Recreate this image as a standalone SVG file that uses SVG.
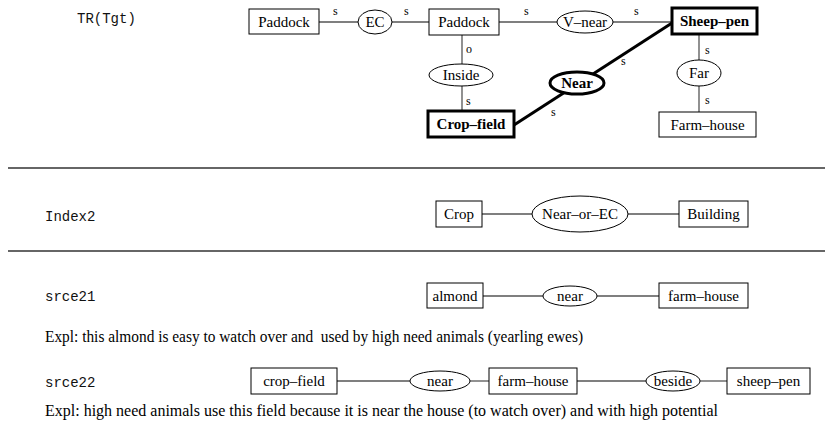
<svg xmlns="http://www.w3.org/2000/svg" width="825" height="426" viewBox="0 0 825 426">
  <style>
    .box { fill: #fff; stroke: #000; stroke-width: 1; }
    .bold-box { fill: #fff; stroke: #000; stroke-width: 3; }
    .rel { fill: #fff; stroke: #000; stroke-width: 1; }
    .bold-rel { fill: #fff; stroke: #000; stroke-width: 3; }
    .edge { stroke: #555; stroke-width: 1.3; fill: none; }
    .bold-edge { stroke: #000; stroke-width: 3; fill: none; }
    .rule { stroke: #333; stroke-width: 1.3; }
    .lbl { font-family: "Liberation Serif", "Times New Roman", serif; font-size: 15px; fill: #000; text-anchor: middle; }
    .lbl-b { font-family: "Liberation Serif", "Times New Roman", serif; font-size: 15px; font-weight: bold; fill: #000; text-anchor: middle; }
    .tag { font-family: "Liberation Serif", "Times New Roman", serif; font-size: 12px; fill: #000; }
    .mono { font-family: "Liberation Mono", "Courier New", monospace; font-size: 14px; fill: #111; }
    .expl { font-family: "Liberation Serif", "Times New Roman", serif; font-size: 16px; fill: #000; white-space: pre; }
  </style>

  <!-- Section titles -->
  <text class="mono" x="77" y="23">TR(Tgt)</text>
  <text class="mono" x="45" y="221">Index2</text>
  <text class="mono" x="45" y="301">srce21</text>
  <text class="mono" x="45" y="387">srce22</text>

  <!-- Section separators -->
  <line class="rule" x1="8" y1="168" x2="825" y2="168"/>
  <line class="rule" x1="8" y1="251" x2="825" y2="251"/>

  <!-- Connectors -->
  <g id="connectors">
    <!-- TR(Tgt) graph -->
    <line class="edge" x1="319" y1="22" x2="358" y2="22"/>
    <line class="edge" x1="392" y1="22" x2="429" y2="22"/>
    <line class="edge" x1="499" y1="22" x2="557" y2="22"/>
    <line class="edge" x1="613" y1="22" x2="672" y2="22"/>
    <line class="edge" x1="462" y1="35" x2="462" y2="64"/>
    <line class="edge" x1="462" y1="86" x2="462" y2="111"/>
    <line class="edge" x1="699" y1="35" x2="699" y2="60"/>
    <line class="edge" x1="699" y1="86" x2="699" y2="112"/>
    <line class="bold-edge" x1="514" y1="125" x2="672" y2="23"/>
    <text class="tag" x="333" y="15">s</text>
    <text class="tag" x="404" y="15">s</text>
    <text class="tag" x="524" y="15">s</text>
    <text class="tag" x="634" y="15">s</text>
    <text class="tag" x="466" y="53">o</text>
    <text class="tag" x="466" y="105">s</text>
    <text class="tag" x="621" y="65">s</text>
    <text class="tag" x="551" y="116">s</text>
    <text class="tag" x="705" y="54">s</text>
    <text class="tag" x="705" y="104">s</text>
    <!-- Index2 graph -->
    <line class="edge" x1="482" y1="214" x2="532" y2="214"/>
    <line class="edge" x1="628" y1="214" x2="679" y2="214"/>
    <!-- srce21 graph -->
    <line class="edge" x1="483" y1="296" x2="543" y2="296"/>
    <line class="edge" x1="597" y1="296" x2="659" y2="296"/>
    <!-- srce22 graph -->
    <line class="edge" x1="337" y1="381" x2="410" y2="381"/>
    <line class="edge" x1="470" y1="381" x2="489" y2="381"/>
    <line class="edge" x1="577" y1="381" x2="646" y2="381"/>
    <line class="edge" x1="700" y1="381" x2="727" y2="381"/>
  </g>

  <!-- TR(Tgt) nodes -->
  <g id="paddock-a">
    <rect class="box" x="249" y="9" width="70" height="25"/>
    <text class="lbl" x="284" y="27">Paddock</text>
  </g>
  <g id="ec">
    <ellipse class="rel" cx="375" cy="22" rx="17" ry="12"/>
    <text class="lbl" x="375" y="27">EC</text>
  </g>
  <g id="paddock-b">
    <rect class="box" x="429" y="9" width="70" height="26"/>
    <text class="lbl" x="464" y="27">Paddock</text>
  </g>
  <g id="v-near">
    <ellipse class="rel" cx="585" cy="22" rx="28" ry="11"/>
    <text class="lbl" x="585" y="27">V–near</text>
  </g>
  <g id="sheep-pen">
    <rect class="bold-box" x="672" y="8" width="85" height="26"/>
    <text class="lbl-b" x="714.5" y="26">Sheep–pen</text>
  </g>
  <g id="inside">
    <ellipse class="rel" cx="461" cy="75" rx="32" ry="11"/>
    <text class="lbl" x="461" y="80">Inside</text>
  </g>
  <g id="crop-field">
    <rect class="bold-box" x="428" y="111" width="86" height="26"/>
    <text class="lbl-b" x="471" y="129">Crop–field</text>
  </g>
  <g id="near">
    <ellipse class="bold-rel" cx="577" cy="83" rx="27" ry="11"/>
    <text class="lbl-b" x="577" y="88">Near</text>
  </g>
  <g id="far">
    <ellipse class="rel" cx="699" cy="73" rx="22" ry="13"/>
    <text class="lbl" x="699" y="78">Far</text>
  </g>
  <g id="farm-house">
    <rect class="box" x="659" y="112" width="97" height="25"/>
    <text class="lbl" x="707.5" y="130">Farm–house</text>
  </g>

  <!-- Index2 nodes -->
  <g id="crop">
    <rect class="box" x="436" y="201" width="46" height="26"/>
    <text class="lbl" x="459" y="219">Crop</text>
  </g>
  <g id="near-or-ec">
    <ellipse class="rel" cx="580" cy="214" rx="48" ry="18"/>
    <text class="lbl" x="580" y="219">Near–or–EC</text>
  </g>
  <g id="building">
    <rect class="box" x="679" y="201" width="69" height="26"/>
    <text class="lbl" x="713.5" y="219">Building</text>
  </g>

  <!-- srce21 nodes -->
  <g id="almond">
    <rect class="box" x="427" y="283" width="56" height="25"/>
    <text class="lbl" x="455" y="301">almond</text>
  </g>
  <g id="near-21">
    <ellipse class="rel" cx="570" cy="296" rx="27" ry="10"/>
    <text class="lbl" x="570" y="301">near</text>
  </g>
  <g id="farm-house-21">
    <rect class="box" x="659" y="283" width="89" height="25"/>
    <text class="lbl" x="703.5" y="301">farm–house</text>
  </g>
  <text class="expl" x="45" y="342" textLength="538" lengthAdjust="spacingAndGlyphs">Expl: this almond is easy to watch over and  used by high need animals (yearling ewes)</text>

  <!-- srce22 nodes -->
  <g id="crop-field-22">
    <rect class="box" x="251" y="368" width="86" height="26"/>
    <text class="lbl" x="294" y="386">crop–field</text>
  </g>
  <g id="near-22">
    <ellipse class="rel" cx="440" cy="381" rx="30" ry="10"/>
    <text class="lbl" x="440" y="386">near</text>
  </g>
  <g id="farm-house-22">
    <rect class="box" x="489" y="368" width="88" height="26"/>
    <text class="lbl" x="533" y="386">farm–house</text>
  </g>
  <g id="beside">
    <ellipse class="rel" cx="673" cy="381" rx="27" ry="10"/>
    <text class="lbl" x="673" y="386">beside</text>
  </g>
  <g id="sheep-pen-22">
    <rect class="box" x="727" y="368" width="83" height="26"/>
    <text class="lbl" x="768.5" y="386">sheep–pen</text>
  </g>
  <text class="expl" x="45" y="416" textLength="673" lengthAdjust="spacingAndGlyphs">Expl: high need animals use this field because it is near the house (to watch over) and with high potential</text>
</svg>
